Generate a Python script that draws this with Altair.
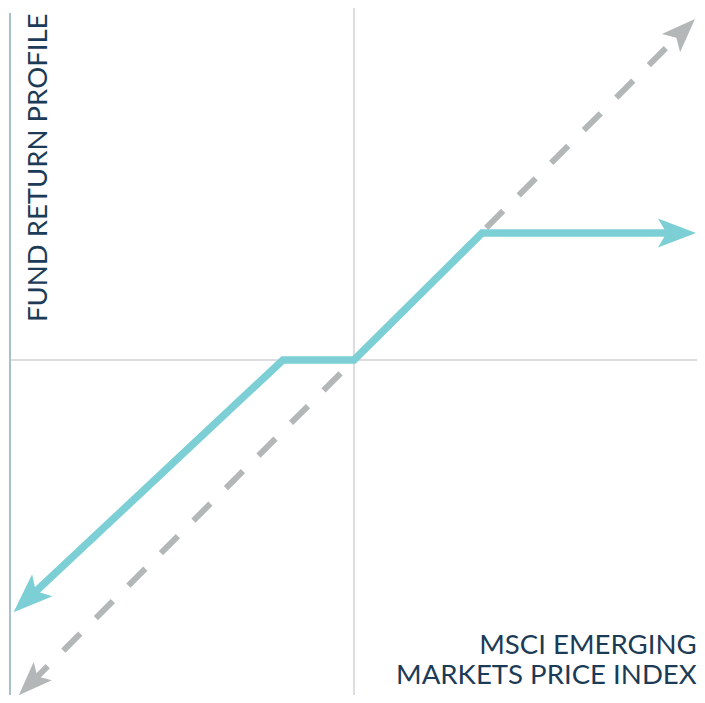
import altair as alt
import pandas as pd

# Chart units: one unit of index move / fund return
X_DOMAIN = [-54.0625, 53.59375]
Y_DOMAIN = [-52.34375, 55.0]

# Fund return profile (teal)
fund_x = [-50.95, -11.1, 0.0, 20.0, 50.47]
fund_y = [-37.3, 0.0, 0.0, 19.84, 19.84]

# Index (dashed grey, 1:1)
index_x = [-50.5, 51.4]
index_y = [-50.5, 51.4]

# Arrow heads at line ends
arrow_x = [-50.95, 50.47, -50.5, 51.4]
arrow_y = [-37.3, 19.84, -50.5, 51.4]
arrow_angle = [137, 0, 135, 315]
arrow_size = [1550, 1450, 1150, 1150]
arrow_series = ["fund", "fund", "index", "index"]

# Reference lines
axis_left_x = -53.75
axis_top_y = 54.2

y_label = "FUND RETURN PROFILE"
x_label_lines = ["MSCI EMERGING", "MARKETS PRICE INDEX"]
x_label_y = -45.9
x_label_x = 53.55

TEAL = "#7dcfd6"
GREY = "#b3b7b7"
TEXT = "#1c3b57"

xs = alt.Scale(domain=X_DOMAIN, nice=False, zero=False)
ys = alt.Scale(domain=Y_DOMAIN, nice=False, zero=False)

fund_df = pd.DataFrame({"x": fund_x, "y": fund_y, "o": list(range(len(fund_x)))})
index_df = pd.DataFrame({"x": index_x, "y": index_y, "o": [0, 1]})
arrow_df = pd.DataFrame({"x": arrow_x, "y": arrow_y, "angle": arrow_angle,
                         "size": arrow_size, "series": arrow_series})

vrule_df = pd.DataFrame({"x": [0.0], "y": [Y_DOMAIN[1]], "y2": [Y_DOMAIN[0]]})
hrule_df = pd.DataFrame({"y": [0.0], "x": [axis_left_x], "x2": [X_DOMAIN[1]]})
left_df = pd.DataFrame({"x": [axis_left_x], "y": [axis_top_y], "y2": [Y_DOMAIN[0]]})

vrule = alt.Chart(vrule_df).mark_rule(color="#dcdce1", strokeWidth=2).encode(
    x=alt.X("x:Q", scale=xs, axis=None),
    y=alt.Y("y:Q", scale=ys, axis=None),
    y2="y2:Q",
)
hrule = alt.Chart(hrule_df).mark_rule(color="#dcdce1", strokeWidth=2).encode(
    y=alt.Y("y:Q", scale=ys, axis=None),
    x=alt.X("x:Q", scale=xs, axis=None),
    x2="x2:Q",
)
left = alt.Chart(left_df).mark_rule(color="#a9c0ca", strokeWidth=2).encode(
    x=alt.X("x:Q", scale=xs, axis=None),
    y=alt.Y("y:Q", scale=ys, axis=None),
    y2="y2:Q",
)

index_line = alt.Chart(index_df).mark_line(
    color=GREY, strokeWidth=6, strokeDash=[24, 22], strokeCap="butt"
).encode(
    x=alt.X("x:Q", scale=xs, axis=None),
    y=alt.Y("y:Q", scale=ys, axis=None),
    order="o:Q",
)

fund_line = alt.Chart(fund_df).mark_line(
    color=TEAL, strokeWidth=7.5, strokeCap="butt", strokeJoin="miter"
).encode(
    x=alt.X("x:Q", scale=xs, axis=None),
    y=alt.Y("y:Q", scale=ys, axis=None),
    order="o:Q",
)

arrow_shape = "M1,0L-1,-0.76L-0.55,0L-1,0.76Z"


def arrows(series):
    return alt.Chart(arrow_df).transform_filter(
        alt.datum.series == series
    ).mark_point(shape=arrow_shape, filled=True, opacity=1, strokeWidth=0).encode(
        x=alt.X("x:Q", scale=xs, axis=None),
        y=alt.Y("y:Q", scale=ys, axis=None),
        angle=alt.Angle("angle:Q", scale=None),
        size=alt.Size("size:Q", scale=None, legend=None),
        color=alt.Color("series:N", scale=alt.Scale(domain=["fund", "index"], range=[TEAL, GREY]), legend=None),
    )


ylab_df = pd.DataFrame({"x": [-47.97], "y": [5.94], "t": [y_label]})
ylab = alt.Chart(ylab_df).mark_text(
    font="Lato", fontSize=27.5, color=TEXT, angle=270, align="left", baseline="alphabetic"
).encode(
    x=alt.X("x:Q", scale=xs, axis=None),
    y=alt.Y("y:Q", scale=ys, axis=None),
    text="t:N",
)

xlab_df = pd.DataFrame({"x": [x_label_x], "y": [x_label_y], "t": ["\n".join(x_label_lines)]})
xlab = alt.Chart(xlab_df).mark_text(
    font="Lato", fontSize=27.6, color=TEXT, align="right", baseline="alphabetic",
    lineBreak="\n", lineHeight=30,
).encode(
    x=alt.X("x:Q", scale=xs, axis=None),
    y=alt.Y("y:Q", scale=ys, axis=None),
    text="t:N",
)

chart = alt.layer(
    vrule, hrule, left, index_line, arrows("index"), fund_line, arrows("fund"), ylab, xlab
).properties(
    width=689,
    height=687,
    padding=0,
    autosize=alt.AutoSizeParams(type="none"),
    background="white",
).configure_view(stroke=None)

chart.save("out.html", embed_options={"renderer": "svg", "actions": False})
